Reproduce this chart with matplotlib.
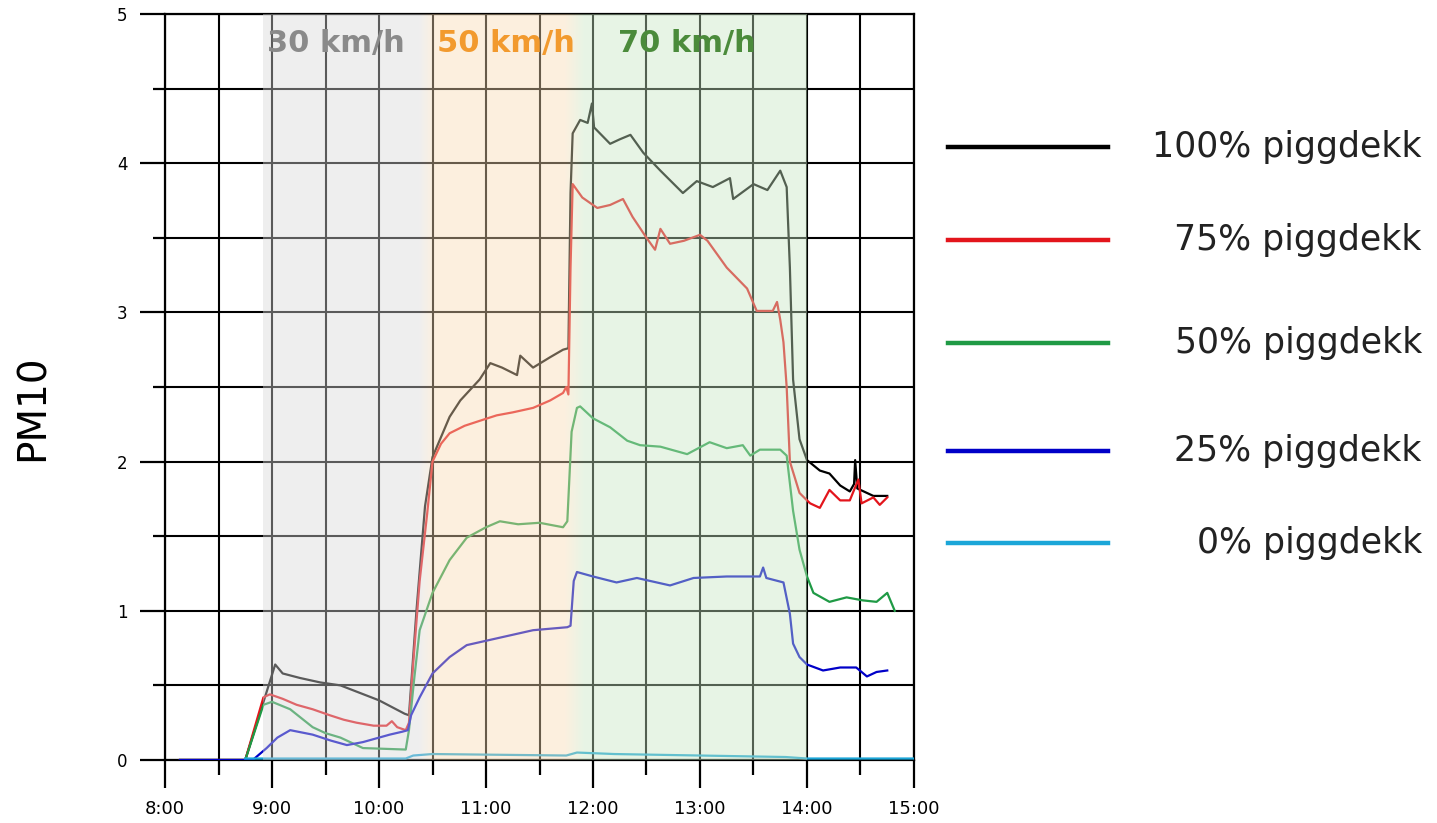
import numpy as np
import matplotlib
matplotlib.use('Agg')
import matplotlib.pyplot as plt
from matplotlib.lines import Line2D
from matplotlib.ticker import MultipleLocator, FuncFormatter

# tid i timer (8.5 = 8:30), PM10-verdier lest av figuren
t_100 = [8.14, 8.75, 9.03, 9.10, 9.26, 9.45, 9.64, 9.82, 10.0, 10.24, 10.28, 10.35, 10.43, 10.5,
         10.66, 10.76, 10.94, 11.04, 11.15, 11.29, 11.32, 11.44, 11.6, 11.72, 11.77, 11.79, 11.81,
         11.88, 11.95, 11.99, 12.01, 12.16, 12.25, 12.35, 12.47, 12.63, 12.84, 12.97, 13.12, 13.28,
         13.31, 13.5, 13.63, 13.75, 13.81, 13.84, 13.87, 13.93, 14.0, 14.12, 14.21, 14.31, 14.4,
         14.44, 14.45, 14.47, 14.62, 14.75]
v_100 = [0, 0, 0.64, 0.58, 0.55, 0.52, 0.50, 0.45, 0.40, 0.31, 0.30, 1.0, 1.7, 2.03,
         2.30, 2.41, 2.55, 2.66, 2.63, 2.58, 2.71, 2.63, 2.70, 2.75, 2.76, 3.8, 4.2,
         4.29, 4.27, 4.4, 4.24, 4.13, 4.16, 4.19, 4.07, 3.95, 3.80, 3.88, 3.84, 3.90,
         3.76, 3.86, 3.82, 3.95, 3.84, 3.3, 2.55, 2.15, 2.01, 1.94, 1.92, 1.84, 1.80,
         1.85, 2.01, 1.82, 1.77, 1.77]

t_75 = [8.14, 8.75, 8.92, 8.98, 9.1, 9.23, 9.38, 9.54, 9.67, 9.79, 9.95, 10.07, 10.12, 10.17,
        10.25, 10.28, 10.32, 10.38, 10.45, 10.5, 10.58, 10.66, 10.8, 10.97, 11.1, 11.25, 11.44,
        11.6, 11.72, 11.75, 11.77, 11.79, 11.81, 11.9, 12.04, 12.16, 12.28, 12.37, 12.5, 12.58,
        12.63, 12.72, 12.85, 13.0, 13.07, 13.25, 13.44, 13.53, 13.68, 13.72, 13.75, 13.78, 13.81,
        13.84, 13.93, 14.0, 14.03, 14.12, 14.21, 14.31, 14.4, 14.48, 14.51, 14.62, 14.68, 14.75]
v_75 = [0, 0, 0.42, 0.44, 0.41, 0.37, 0.34, 0.30, 0.27, 0.25, 0.23, 0.23, 0.26, 0.22,
        0.20, 0.25, 0.65, 1.2, 1.65, 2.0, 2.12, 2.19, 2.24, 2.28, 2.31, 2.33, 2.36,
        2.41, 2.46, 2.50, 2.45, 3.3, 3.86, 3.77, 3.70, 3.72, 3.76, 3.64, 3.50, 3.42,
        3.56, 3.46, 3.48, 3.52, 3.48, 3.30, 3.16, 3.01, 3.01, 3.07, 2.95, 2.8, 2.5,
        2.0, 1.79, 1.74, 1.72, 1.69, 1.81, 1.74, 1.74, 1.88, 1.72, 1.76, 1.71, 1.76]

t_50 = [8.14, 8.75, 8.92, 9.0, 9.17, 9.38, 9.5, 9.64, 9.85, 10.25, 10.28, 10.33, 10.38, 10.5,
        10.66, 10.82, 11.0, 11.13, 11.3, 11.5, 11.72, 11.76, 11.8, 11.85, 11.88, 12.0, 12.16,
        12.32, 12.44, 12.63, 12.88, 13.09, 13.25, 13.4, 13.47, 13.56, 13.75, 13.81, 13.87, 13.93,
        14.0, 14.06, 14.21, 14.37, 14.52, 14.65, 14.75, 14.82]
v_50 = [0, 0, 0.37, 0.39, 0.34, 0.22, 0.18, 0.15, 0.08, 0.07, 0.2, 0.55, 0.87, 1.12,
        1.34, 1.49, 1.56, 1.60, 1.58, 1.59, 1.56, 1.60, 2.2, 2.36, 2.37, 2.29, 2.23,
        2.14, 2.11, 2.10, 2.05, 2.13, 2.09, 2.11, 2.04, 2.08, 2.08, 2.04, 1.67, 1.41,
        1.23, 1.12, 1.06, 1.09, 1.07, 1.06, 1.12, 1.0]

t_25 = [8.14, 8.82, 8.95, 9.05, 9.17, 9.38, 9.55, 9.7, 9.85, 10.1, 10.22, 10.27, 10.3, 10.38,
        10.5, 10.66, 10.82, 11.13, 11.44, 11.76, 11.79, 11.82, 11.85, 12.0, 12.22, 12.41, 12.72,
        12.94, 13.25, 13.56, 13.59, 13.62, 13.78, 13.84, 13.87, 13.93, 14.0, 14.15, 14.31, 14.46,
        14.56, 14.65, 14.75]
v_25 = [0, 0, 0.08, 0.15, 0.20, 0.17, 0.13, 0.10, 0.12, 0.17, 0.19, 0.2, 0.3, 0.42,
        0.58, 0.69, 0.77, 0.82, 0.87, 0.89, 0.9, 1.2, 1.26, 1.23, 1.19, 1.22, 1.17,
        1.22, 1.23, 1.23, 1.29, 1.22, 1.19, 0.98, 0.78, 0.69, 0.64, 0.60, 0.62, 0.62,
        0.56, 0.59, 0.60]

t_0 = [8.75, 10.25, 10.32, 10.5, 11.75, 11.85, 12.2, 13.8, 14.0, 15.0]
v_0 = [0.01, 0.01, 0.03, 0.04, 0.03, 0.05, 0.04, 0.02, 0.01, 0.01]

labels = ['100% piggdekk', '75% piggdekk', '50% piggdekk', '25% piggdekk', '0% piggdekk']
colors = ['#000000', '#e3151c', '#1f9a45', '#0000c8', '#1ba6d8']
series = [(t_100, v_100), (t_75, v_75), (t_50, v_50), (t_25, v_25), (t_0, v_0)]

# fartssoner: tekst, plassering, farge
speed_names = ['30 km/h', '50 km/h', '70 km/h']
speed_text_x = [9.6, 11.19, 12.88]
speed_text_col = ['#8a8a8a', '#f29a2e', '#4b8b3b']

fig = plt.figure(figsize=(14.37, 8.23), dpi=100)
ax = fig.add_axes([165 / 1437, 1 - 760 / 823, (914 - 165) / 1437, (760 - 14) / 823])

for (t, v), c in zip(series, colors):
    ax.plot(t, v, color=c, lw=1.6, zorder=3)

# halvgjennomsiktig skyggelegging over linjene (grå -> oransje -> grønn)
keys_t = [8.92, 10.38, 10.52, 11.74, 11.92, 14.0]
keys_c = np.array([[0.85, 0.85, 0.85], [0.85, 0.85, 0.85],
                   [0.976, 0.857, 0.70], [0.976, 0.857, 0.70],
                   [0.786, 0.905, 0.762], [0.786, 0.905, 0.762]])
xs = np.linspace(keys_t[0], keys_t[-1], 600)
img = np.ones((1, len(xs), 4))
for k in range(3):
    img[0, :, k] = np.interp(xs, keys_t, keys_c[:, k])
img[0, :, 3] = 0.42
ax.imshow(img, extent=[keys_t[0], keys_t[-1], 0, 5], aspect='auto', zorder=5,
          interpolation='bilinear')

for name, x, c in zip(speed_names, speed_text_x, speed_text_col):
    ax.text(x, 4.8, name, color=c, fontsize=22, fontweight='bold', ha='center', va='center',
            zorder=6)

ax.set_xlim(8, 15)
ax.set_ylim(0, 5)
ax.xaxis.set_major_locator(MultipleLocator(1))
ax.xaxis.set_minor_locator(MultipleLocator(0.5))
ax.yaxis.set_major_locator(MultipleLocator(1))
ax.yaxis.set_minor_locator(MultipleLocator(0.5))
ax.xaxis.set_major_formatter(FuncFormatter(lambda x, p: f'{int(x)}:00'))
ax.grid(which='both', color='black', lw=1.5, zorder=2)
ax.tick_params(axis='x', which='major', length=20, width=1.6, labelsize=13, pad=9)
ax.tick_params(axis='x', which='minor', length=11, width=1.6)
ax.tick_params(axis='y', which='major', length=18, width=1.6, labelsize=12, pad=9)
ax.tick_params(axis='y', which='minor', length=9, width=1.6)
for s in ax.spines.values():
    s.set_linewidth(1.6)
ax.set_ylabel('PM10', fontsize=28)
ax.yaxis.set_label_coords(-0.152, 0.472)

# forklaring til høyre
leg_y = [147, 240, 343, 451, 543]
for lab, c, y in zip(labels, colors, leg_y):
    yf = 1 - y / 823
    fig.add_artist(Line2D([948 / 1437, 1108 / 1437], [yf, yf], color=c, lw=3.2))
    fig.text(1422 / 1437, yf, lab, fontsize=25, ha='right', va='center', color='#222222')

fig.savefig('out.png', dpi=100)
